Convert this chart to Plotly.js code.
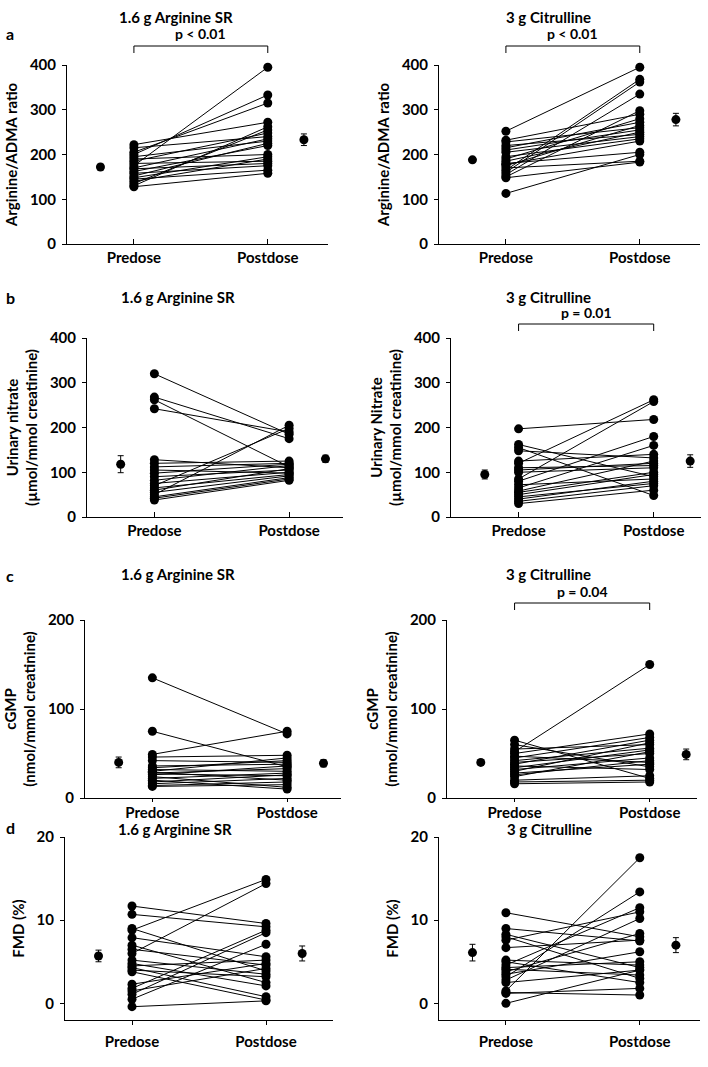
<!DOCTYPE html>
<html>
<head>
<meta charset="utf-8">
<script src="https://cdn.plot.ly/plotly-3.0.1.min.js"></script>
<style>html,body{margin:0;padding:0;background:#fff}#chart{width:708px;height:1067px}</style>
</head>
<body>
<div id="chart"></div>
<script>
// ---------- data ----------
const timeLabels = ['Predose', 'Postdose'];
const treatments = ['1.6 g Arginine SR', '3 g Citrulline'];
const panelLetters = ['a', 'b', 'c', 'd'];

// Arginine/ADMA ratio
const ratioArgPre  = [175, 200, 205, 222, 215, 130, 135, 195, 190, 185, 180, 170, 168, 162, 158, 152, 148, 145, 140, 128];
const ratioArgPost = [395, 333, 315, 272, 240, 262, 255, 230, 200, 248, 185, 235, 180, 220, 175, 225, 195, 165, 190, 158];
const ratioCitPre  = [252, 232, 228, 220, 215, 210, 205, 195, 190, 185, 180, 178, 175, 170, 165, 160, 155, 150, 148, 113];
const ratioCitPost = [395, 290, 260, 245, 272, 255, 240, 235, 280, 250, 205, 230, 265, 185, 368, 362, 335, 298, 183, 200];

// Urinary nitrate (umol/mmol creatinine)
const nitrateArgPre  = [320, 268, 262, 242, 128, 120, 112, 105, 98, 90, 82, 75, 70, 65, 60, 55, 50, 45, 42, 38];
const nitrateArgPost = [185, 175, 112, 190, 110, 125, 120, 98, 118, 105, 115, 100, 198, 95, 108, 92, 205, 88, 85, 82];
const nitrateCitPre  = [197, 162, 155, 148, 125, 120, 110, 105, 100, 85, 80, 72, 65, 58, 55, 50, 45, 40, 35, 30];
const nitrateCitPost = [218, 90, 48, 132, 140, 262, 115, 120, 110, 258, 180, 85, 160, 125, 100, 95, 75, 80, 70, 60];

// cGMP (nmol/mmol creatinine)
const cgmpArgPre  = [135, 75, 49, 46, 42, 36, 34, 32, 30, 29, 28, 27, 26, 24, 22, 20, 18, 16, 14, 13];
const cgmpArgPost = [72, 35, 75, 48, 40, 38, 42, 30, 45, 20, 33, 25, 36, 12, 28, 10, 26, 22, 18, 15];
const cgmpCitPre  = [65, 60, 55, 52, 50, 47, 45, 42, 40, 38, 36, 34, 32, 30, 28, 26, 24, 20, 18, 16];
const cgmpCitPost = [22, 35, 60, 150, 72, 40, 68, 56, 50, 65, 32, 54, 45, 62, 38, 42, 52, 25, 20, 18];

// FMD (%)
const fmdArgPre  = [11.7, 10.7, 9.0, 8.8, 7.9, 7.0, 6.5, 6.0, 5.2, 4.8, 4.5, 4.3, 4.0, 3.8, 2.3, 1.8, 1.5, 1.1, 0.5, -0.4];
const fmdArgPost = [9.6, 9.2, 3.9, 14.9, 5.6, 2.5, 4.6, 14.4, 3.5, 2.1, 5.2, 0.8, 3.2, 0.4, 4.8, 8.8, 4.2, 8.5, 7.1, 0.3];
const fmdCitPre  = [10.9, 9.0, 8.3, 8.0, 7.6, 6.7, 5.2, 5.0, 4.6, 4.3, 4.1, 3.8, 3.5, 3.2, 2.8, 2.5, 1.5, 1.3, 1.2, 0.0];
const fmdCitPost = [8.0, 7.5, 4.3, 3.0, 11.0, 7.6, 4.6, 2.5, 11.5, 5.0, 3.4, 8.4, 6.2, 13.4, 10.2, 4.0, 17.5, 1.0, 1.8, 4.0];

// group mean +/- SE (panel order: a-left, a-right, b-left, b-right, c-left, c-right, d-left, d-right)
const meanPre  = [172, 188, 118, 95, 40, 40, 5.7, 6.1];
const sePre    = [6, 5, 19, 10, 6, 3, 0.7, 1.0];
const meanPost = [233, 278, 130, 125, 39, 49, 6.0, 7.0];
const sePost   = [13, 14, 8, 14, 4, 6, 0.9, 0.9];

const pValues = ['p < 0.01', 'p < 0.01', null, 'p = 0.01', null, 'p = 0.04', null, null];

const yTitles = [
  'Arginine/ADMA ratio', 'Arginine/ADMA ratio',
  'Urinary nitrate<br>(µmol/mmol creatinine)', 'Urinary Nitrate<br>(µmol/mmol creatinine)',
  'cGMP<br>(nmol/mmol creatinine)', 'cGMP<br>(nmol/mmol creatinine)',
  'FMD (%)', 'FMD (%)'
];
const yTicks = [[0,100,200,300,400],[0,100,200,300,400],[0,100,200,300,400],[0,100,200,300,400],[0,100,200],[0,100,200],[0,10,20],[0,10,20]];

const preSets  = [ratioArgPre, ratioCitPre, nitrateArgPre, nitrateCitPre, cgmpArgPre, cgmpCitPre, fmdArgPre, fmdCitPre];
const postSets = [ratioArgPost, ratioCitPost, nitrateArgPost, nitrateCitPost, cgmpArgPost, cgmpCitPost, fmdArgPost, fmdCitPost];

// ---------- layout geometry (pixels) ----------
const W = 708, H = 1067;
const geom = [
  {x:[67,328],  y:[65,244],   xr:[0.5,2.45], yr:[0,400], tick:'inside',  tl:5, so:0},
  {x:[439,700], y:[65,244],   xr:[0.5,2.45], yr:[0,400], tick:'inside',  tl:5, so:0},
  {x:[87,343],  y:[338,517],  xr:[0.5,2.4],  yr:[0,400], tick:'inside',  tl:5, so:0},
  {x:[451,701], y:[338,517],  xr:[0.5,2.35], yr:[0,400], tick:'inside',  tl:5, so:0},
  {x:[85,341],  y:[620,798],  xr:[0.5,2.4],  yr:[0,200], tick:'outside', tl:3, so:-2},
  {x:[447,697], y:[620,798],  xr:[0.5,2.35], yr:[0,200], tick:'outside', tl:3, so:-2},
  {x:[65,333],  y:[837,1020], xr:[0.5,2.5],  yr:[-2,20], tick:'outside', tl:4, so:4},
  {x:[439,700], y:[837,1020], xr:[0.5,2.45], yr:[-2,20], tick:'outside', tl:4, so:4}
];
const titleY = [17, 297, 574, 829];
const letterY = [33, 297, 575, 827];
const titleX = [[176, 548], [178, 548], [178, 548], [175, 549]];
const bracket = {0:{line:46, text:34}, 1:{line:46, text:34}, 3:{line:324, text:312}, 5:{line:603, text:591}};
const MEAN_PRE_X = 0.75, MEAN_POST_X = 2.27;

const FONT = 'Lato, "Open Sans", sans-serif';
const px2x = p => p / W;
const px2y = p => 1 - p / H;

const traces = [];
const layout = {
  width: W, height: H,
  margin: {l:0, r:0, t:0, b:0},
  paper_bgcolor: '#fff', plot_bgcolor: '#fff',
  showlegend: false,
  font: {family: FONT, size: 15, color: '#000', weight: 'bold'},
  annotations: [], shapes: []
};

geom.forEach((g, i) => {
  const n = i + 1;
  const xa = n === 1 ? 'x' : 'x' + n;
  const ya = n === 1 ? 'y' : 'y' + n;
  const pre = preSets[i], post = postSets[i];

  // paired lines
  const lx = [], ly = [];
  pre.forEach((v, k) => { lx.push(1, 2, null); ly.push(v, post[k], null); });
  traces.push({type:'scatter', mode:'lines', x:lx, y:ly, xaxis:xa, yaxis:ya,
    line:{color:'#000', width:1}, hoverinfo:'skip'});
  // individual points
  traces.push({type:'scatter', mode:'markers',
    x: pre.map(() => 1).concat(post.map(() => 2)), y: pre.concat(post),
    xaxis:xa, yaxis:ya, marker:{color:'#000', size:9}, cliponaxis:false});
  // means +/- SE
  traces.push({type:'scatter', mode:'markers', x:[MEAN_PRE_X, MEAN_POST_X], y:[meanPre[i], meanPost[i]],
    xaxis:xa, yaxis:ya, marker:{color:'#000', size:9},
    error_y:{type:'data', array:[sePre[i], sePost[i]], color:'#000', thickness:1, width:3}});

  const axBase = {showgrid:false, zeroline:false, showline:true, linecolor:'#000', linewidth:1,
    ticks:'outside', ticklen:5, tickcolor:'#000', tickwidth:1,
    tickfont:{family:FONT, size:15, color:'#000', weight:'bold'}};
  layout['xaxis' + (n === 1 ? '' : n)] = Object.assign({}, axBase, {
    domain:[px2x(g.x[0]), px2x(g.x[1])], range:g.xr, anchor:ya,
    tickvals:[1, 2], ticktext:timeLabels, ticks:g.tick, ticklen:g.tl, ticklabelstandoff:g.so, fixedrange:true});
  layout['yaxis' + (n === 1 ? '' : n)] = Object.assign({}, axBase, {
    domain:[px2y(g.y[1]), px2y(g.y[0])], range:g.yr, anchor:xa,
    tickvals:yTicks[i], ticklen:4, ticklabelstandoff:3,
    title:{text:yTitles[i], font:{family:FONT, size:15, color:'#000', weight:'bold'}, standoff:8}});

  // significance bracket
  if (pValues[i]) {
    const b = bracket[i];
    const yl = px2y(b.line), yt = px2y(b.line + 7);
    layout.shapes.push(
      {type:'line', xref:xa, yref:'paper', x0:1, x1:2, y0:yl, y1:yl, line:{color:'#000', width:1}},
      {type:'line', xref:xa, yref:'paper', x0:1, x1:1, y0:yl, y1:yt, line:{color:'#000', width:1}},
      {type:'line', xref:xa, yref:'paper', x0:2, x1:2, y0:yl, y1:yt, line:{color:'#000', width:1}});
    layout.annotations.push({xref:xa, yref:'paper', x:1.5, y:px2y(b.text), text:pValues[i],
      showarrow:false, xanchor:'center', yanchor:'middle',
      font:{family:FONT, size:14, color:'#000', weight:'bold'}});
  }
});

// panel titles and letters
titleY.forEach((ty, r) => {
  treatments.forEach((t, c) => {
    layout.annotations.push({xref:'paper', yref:'paper', x:px2x(titleX[r][c]), y:px2y(ty), text:t,
      showarrow:false, xanchor:'center', yanchor:'middle',
      font:{family:FONT, size:15, color:'#000', weight:'bold'}});
  });
  layout.annotations.push({xref:'paper', yref:'paper', x:px2x(4), y:px2y(letterY[r]), text:panelLetters[r],
    showarrow:false, xanchor:'left', yanchor:'middle',
    font:{family:FONT, size:16, color:'#000', weight:'bold'}});
});

Plotly.newPlot('chart', traces, layout, {staticPlot:true, displayModeBar:false});
</script>
</body>
</html>
